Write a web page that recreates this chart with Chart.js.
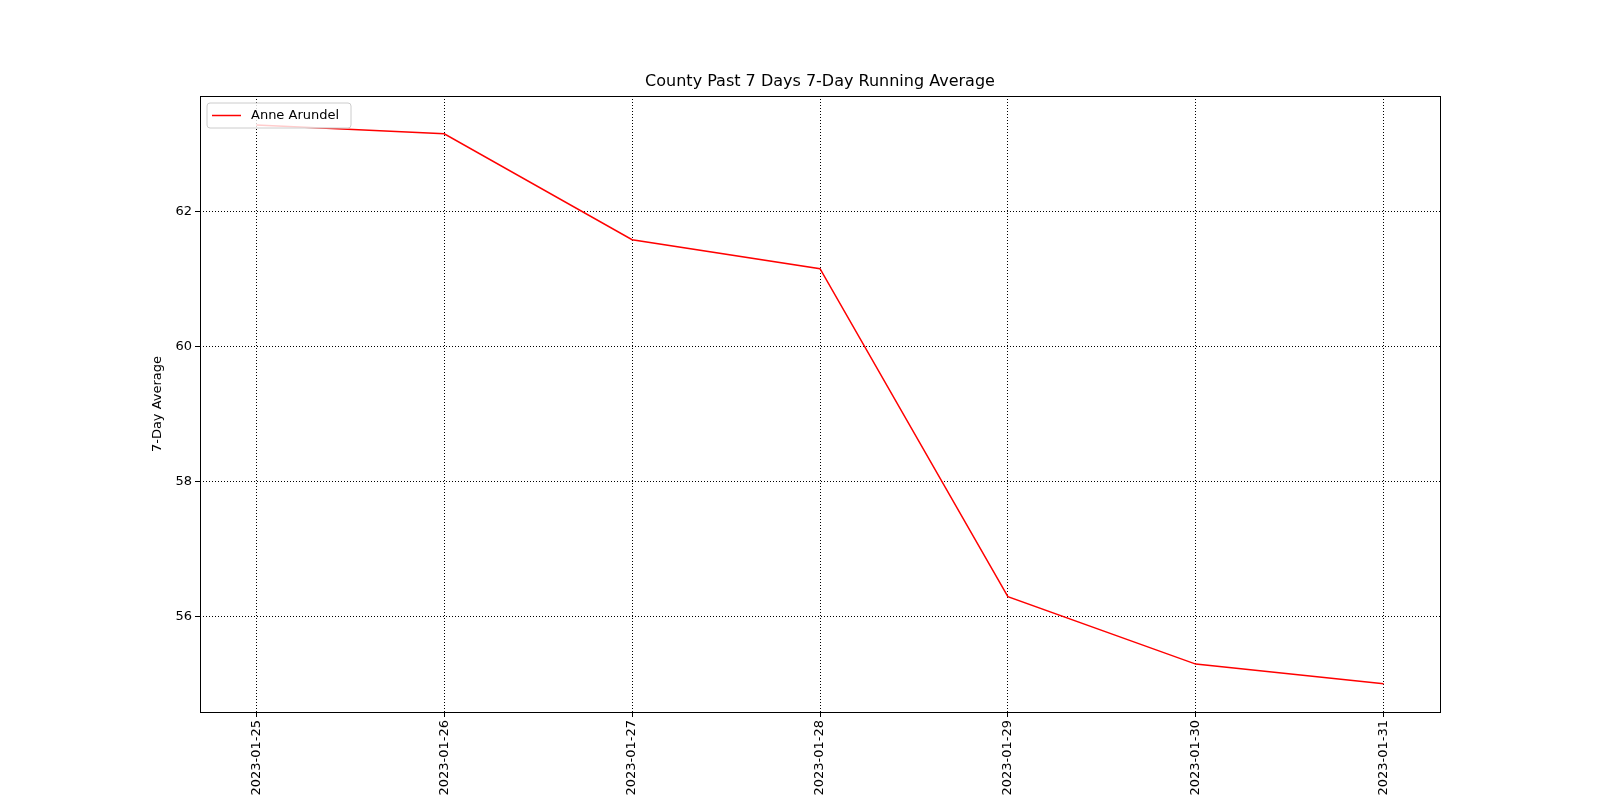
<!DOCTYPE html>
<html>
<head>
<script src="https://cdn.jsdelivr.net/npm/chart.js@4"></script>
<style>
  body { margin: 0; background: #fff; }
  #wrap { width: 1600px; height: 800px; position: relative; }
</style>
</head>
<body>
<div id="wrap"><canvas id="myChart"></canvas></div>
<script>
const dates = ['2023-01-25', '2023-01-26', '2023-01-27', '2023-01-28', '2023-01-29', '2023-01-30', '2023-01-31'];
const averages = [63.28, 63.15, 61.58, 61.15, 56.29, 55.29, 55.0];
const yTicks = [56, 58, 60, 62];
const seriesName = 'Anne Arundel';
const chartTitle = 'County Past 7 Days 7-Day Running Average';

const FONT = 'DejaVu Sans';

// frame, title and legend drawn on top of the chart area
const framePlugin = {
    id: 'frame',
    afterDraw(chart) {
        const ctx = chart.ctx;
        const a = chart.chartArea;
        ctx.save();
        ctx.strokeStyle = '#000';
        ctx.lineWidth = 1;
        ctx.setLineDash([]);
        ctx.strokeRect(a.left + 0.5, a.top + 0.5, a.right - a.left, a.bottom - a.top);

        // title centred over the plot
        ctx.fillStyle = '#000';
        ctx.font = '16px ' + FONT;
        ctx.textAlign = 'center';
        ctx.textBaseline = 'middle';
        ctx.fillText(chartTitle, (a.left + a.right) / 2, a.top - 14);

        // legend box
        const lx = a.left + 7, ly = a.top + 7;
        ctx.fillStyle = 'rgba(255,255,255,0.8)';
        ctx.strokeStyle = '#ccc';
        ctx.beginPath();
        ctx.roundRect(lx, ly, 144, 25, 3);
        ctx.fill();
        ctx.stroke();
        ctx.strokeStyle = 'red';
        ctx.lineWidth = 1.5;
        ctx.beginPath();
        ctx.moveTo(lx + 5, ly + 12.5);
        ctx.lineTo(lx + 34, ly + 12.5);
        ctx.stroke();
        ctx.fillStyle = '#000';
        ctx.font = '13px ' + FONT;
        ctx.textAlign = 'left';
        ctx.fillText(seriesName, lx + 44, ly + 13);
        ctx.restore();
    }
};

const points = averages.map((v, i) => ({ x: i, y: v }));

const ctx = document.getElementById('myChart').getContext('2d');
const myChart = new Chart(ctx, {
    type: 'line',
    data: {
        datasets: [{
            label: seriesName,
            data: points,
            borderColor: 'red',
            borderWidth: 1.5,
            pointRadius: 0,
            tension: 0
        }]
    },
    options: {
        responsive: true,
        maintainAspectRatio: false,
        animation: false,
        layout: { padding: { top: 96, right: 160, left: 150, bottom: 0 } },
        plugins: {
            legend: { display: false },
            tooltip: { enabled: false },
            title: { display: false }
        },
        scales: {
            x: {
                type: 'linear',
                min: -0.3,
                max: 6.3,
                afterBuildTicks(axis) { axis.ticks = dates.map((d, i) => ({ value: i })); },
                afterFit(axis) { axis.height = 88; },
                ticks: {
                    color: '#000',
                    font: { family: FONT, size: 13 },
                    maxRotation: 90,
                    minRotation: 90,
                    callback: (v) => dates[v]
                },
                grid: { color: '#000', lineWidth: 1, tickLength: 5 },
                border: { display: false, dash: [1, 2] }
            },
            y: {
                min: 54.58,
                max: 63.71,
                afterBuildTicks(axis) { axis.ticks = yTicks.map(v => ({ value: v })); },
                afterFit(axis) { axis.width = 50; },
                ticks: {
                    color: '#000',
                    font: { family: FONT, size: 13 }
                },
                title: {
                    display: true,
                    text: '7-Day Average',
                    color: '#000',
                    font: { family: FONT, size: 13 },
                    padding: 0
                },
                grid: { color: '#000', lineWidth: 1, tickLength: 5 },
                border: { display: false, dash: [1, 2] }
            }
        }
    },
    plugins: [framePlugin]
});
</script>
</body>
</html>
